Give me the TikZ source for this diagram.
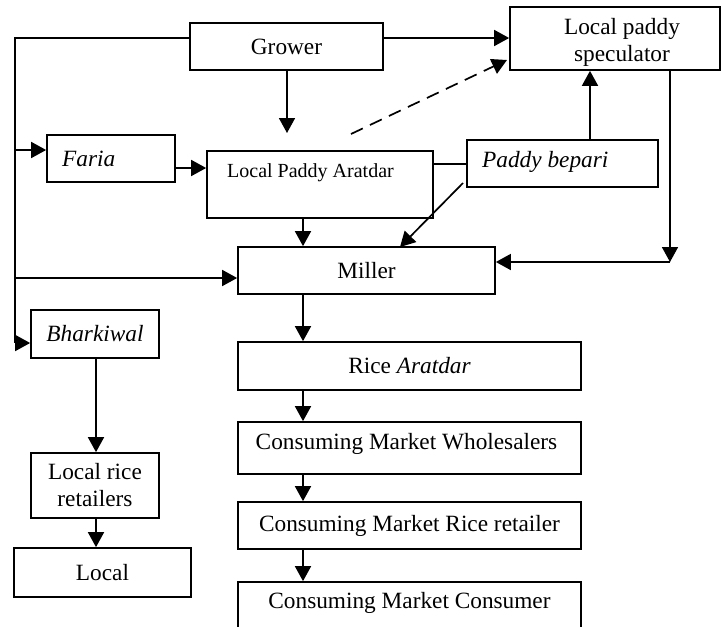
\documentclass[tikz,border=0pt]{standalone}
\usepackage{fontspec}
\setmainfont{Liberation Serif}
\usetikzlibrary{arrows.meta}
\tikzset{
  box/.style={draw, line width=1.7pt, rectangle, inner sep=0pt, anchor=center,
    font=\fontsize{23.3}{27}\selectfont},
  lbl/.style={inner sep=0pt, anchor=center, font=\fontsize{23.3}{27}\selectfont},
  conn/.style={line width=1.7pt},
  arr/.style={conn, -{Triangle[length=15pt 0 0,width=16pt 0 0]}},
  dsh/.style={arr, dash pattern=on 13pt off 8pt},
}
\begin{document}
\begin{tikzpicture}[x=1pt,y=-1pt]
\useasboundingbox (0,0) rectangle (721,627);
\clip (0,0) rectangle (721,627);
% boxes
\node[box, minimum width=193pt, minimum height=47pt] (grower) at (286.5,46.5) {Grower};
\node[box, minimum width=210pt, minimum height=63pt] (spec) at (615,38.5) {};
\node[lbl, align=center] (specT) at (622,42) {Local paddy\\speculator};
\node[box, minimum width=128pt, minimum height=47pt] (faria) at (111,158.5) {};
\node[lbl, anchor=west] (fariaT) at (62,158.5) {\itshape Faria};
\node[box, minimum width=226pt, minimum height=67pt] (aratdar) at (320,184.5) {};
\node[lbl, anchor=west, font=\fontsize{20}{24}\selectfont] (aratdarT) at (227,173) {Local Paddy Aratdar};
\node[box, minimum width=191pt, minimum height=47pt] (bepari) at (562.5,163.5) {};
\node[lbl, anchor=west] (bepariT) at (482,162) {\itshape Paddy bepari};
\node[box, minimum width=257pt, minimum height=47pt] (miller) at (366.5,270.5) {Miller};
\node[box, minimum width=128pt, minimum height=48pt] (bhark) at (95,334) {\itshape Bharkiwal};
\node[box, minimum width=343pt, minimum height=48pt] (rice) at (409.5,366) {Rice \textit{Aratdar}};
\node[box, minimum width=343pt, minimum height=52pt] (cmw) at (409.5,448) {};
\node[lbl] (cmwT) at (406.5,444) {Consuming Market Wholesalers};
\node[box, minimum width=343pt, minimum height=47pt] (cmr) at (409.5,525.5) {Consuming Market Rice retailer};
\node[box, minimum width=343pt, minimum height=47pt] (cmc) at (409.5,605.5) {};
\node[lbl] (cmcT) at (409.5,603) {Consuming Market Consumer};
\node[box, minimum width=128pt, minimum height=65pt, align=center] (lrr) at (95,485.5) {Local rice\\retailers};
\node[box, minimum width=177pt, minimum height=49pt] (local) at (102.5,572.5) {Local};
% coordinates
\coordinate (tl) at (15,38);
\coordinate (bl) at (15,343);
\coordinate (fl) at (15,150);
\coordinate (ml) at (15,278);
\coordinate (gtip) at (287,133);
\coordinate (dA) at (351,134);
\coordinate (dB) at (507,60);
\coordinate (fa) at (175,168);
\coordinate (bA) at (463,183);
\coordinate (bB) at (400,247);
\coordinate (corner) at (670,262);
\coordinate (ab) at (433,164);
% connectors
\draw[conn] (grower.west |- tl) -- (tl) -- (bl);
\draw[arr] (bl) -- (bhark.west |- bl);
\draw[arr] (fl) -- (faria.west |- fl);
\draw[arr] (ml) -- (miller.west |- ml);
\draw[arr] (grower.east |- tl) -- (spec.west |- tl);
\draw[dsh] (dA) -- (dB);
\draw[arr] (grower.south -| gtip) -- (gtip);
\draw[arr] (fa) -- (aratdar.west |- fa);
\draw[conn] (ab) -- (bepari.west |- ab);
\draw[arr] (bA) -- (bB);
\draw[arr] (aratdar.south -| 303,0) -- (miller.north -| 303,0);
\draw[arr] (bepari.north -| 590,0) -- (spec.south -| 590,0);
\draw[arr] (spec.south -| corner) -- (corner);
\draw[arr] (corner) -- (miller.east |- corner);
\draw[arr] (miller.south -| 303,0) -- (rice.north -| 303,0);
\draw[arr] (rice.south -| 303,0) -- (cmw.north -| 303,0);
\draw[arr] (cmw.south -| 303,0) -- (cmr.north -| 303,0);
\draw[arr] (cmr.south -| 303,0) -- (cmc.north -| 303,0);
\draw[arr] (bhark.south -| 96,0) -- (lrr.north -| 96,0);
\draw[arr] (lrr.south -| 96,0) -- (local.north -| 96,0);
\end{tikzpicture}
\end{document}
